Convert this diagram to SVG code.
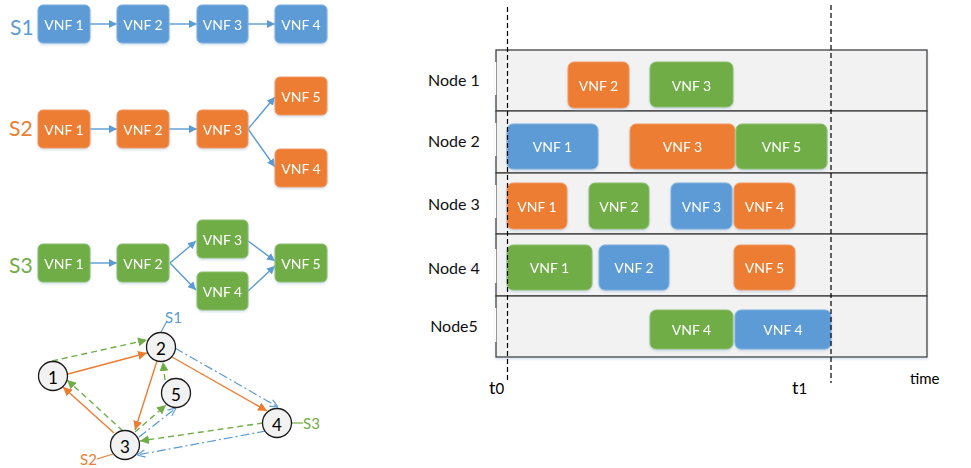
<svg xmlns="http://www.w3.org/2000/svg" width="971" height="468" viewBox="0 0 971 468">
  <style>
    text { font-family: Lato, "Liberation Sans", "DejaVu Sans", sans-serif; }
    .box { stroke-width: 1; }
    .blue { fill: #5B9BD5; stroke: #7FB0DE; }
    .orange { fill: #ED7D31; stroke: #F09A60; }
    .green { fill: #70AD47; stroke: #8CBF6A; }
    .lbl { fill: #FFFFFF; font-size: 14px; text-anchor: middle; dominant-baseline: central; }
    .chain { stroke: #5B9BD5; stroke-width: 1.4; fill: none; marker-end: url(#ah-blue); }
    .sol-o { stroke: #ED7D31; stroke-width: 1.4; fill: none; marker-end: url(#ah-orange); }
    .dash-g { stroke: #70AD47; stroke-width: 1.4; fill: none; stroke-dasharray: 6 4; marker-end: url(#ah-green); }
    .dd-b { stroke: #5B9BD5; stroke-width: 1.2; fill: none; stroke-dasharray: 9 3 2 3; marker-end: url(#ah-blue-open); }
    .gnode circle { fill: #F2F2F2; stroke: #1A1A1A; stroke-width: 1.3; }
    .gnode text { font-size: 17px; fill: #000; text-anchor: middle; dominant-baseline: central; }
    .row { fill: #F2F2F2; stroke: #404040; stroke-width: 1.3; }
    .rowlbl { font-size: 16px; fill: #111; text-anchor: middle; dominant-baseline: central; }
    .tline { stroke: #000; stroke-width: 1.2; stroke-dasharray: 5 3; fill: none; }
  </style>
  <defs>
    <filter id="soft" x="-10%" y="-10%" width="120%" height="130%">
      <feDropShadow dx="0" dy="1.5" stdDeviation="1.2" flood-color="#9DB7D6" flood-opacity="0.45"/>
    </filter>
    <marker id="ah-blue" viewBox="0 0 10 10" refX="10" refY="5" markerWidth="8" markerHeight="8" markerUnits="userSpaceOnUse" orient="auto">
      <path d="M0,0 L10,5 L0,10 z" fill="#5B9BD5"/>
    </marker>
    <marker id="ah-orange" viewBox="0 0 10 10" refX="10" refY="5" markerWidth="9" markerHeight="9" markerUnits="userSpaceOnUse" orient="auto">
      <path d="M0,0 L10,5 L0,10 z" fill="#ED7D31"/>
    </marker>
    <marker id="ah-green" viewBox="0 0 10 10" refX="10" refY="5" markerWidth="9" markerHeight="9" markerUnits="userSpaceOnUse" orient="auto">
      <path d="M0,0 L10,5 L0,10 z" fill="#70AD47"/>
    </marker>
    <marker id="ah-blue-open" viewBox="0 0 10 10" refX="10" refY="5" markerWidth="9" markerHeight="9" markerUnits="userSpaceOnUse" orient="auto">
      <path d="M1,1 L10,5 L1,9" fill="none" stroke="#5B9BD5" stroke-width="1.3" stroke-dasharray="none"/>
    </marker>
  </defs>

  <rect width="971" height="468" fill="#FFFFFF"/>

  <!-- Service chain labels -->
  <text x="10" y="35" font-size="21" fill="#5B9BD5">S1</text>
  <text x="9" y="136" font-size="21" fill="#ED7D31">S2</text>
  <text x="9" y="273" font-size="21" fill="#70AD47">S3</text>

  <!-- Service chain connectors -->
  <g id="chain-connectors">
    <line class="chain" x1="90" y1="24" x2="117" y2="24"/>
    <line class="chain" x1="169" y1="24" x2="197" y2="24"/>
    <line class="chain" x1="248" y1="24" x2="275" y2="24"/>
    <line class="chain" x1="90" y1="129" x2="117" y2="129"/>
    <line class="chain" x1="169" y1="129" x2="197" y2="129"/>
    <line class="chain" x1="248" y1="129" x2="275" y2="97"/>
    <line class="chain" x1="248" y1="129" x2="275" y2="167"/>
    <line class="chain" x1="90" y1="263" x2="117" y2="263"/>
    <line class="chain" x1="170" y1="263" x2="196" y2="241"/>
    <line class="chain" x1="170" y1="263" x2="196" y2="290"/>
    <line class="chain" x1="248" y1="241" x2="275" y2="261"/>
    <line class="chain" x1="248" y1="291" x2="275" y2="266"/>
  </g>

  <!-- Service chain S1 -->
  <g id="s1-vnf1" filter="url(#soft)"><rect class="box blue" x="38" y="5" width="52" height="38" rx="5"/><text class="lbl" x="64" y="24">VNF 1</text></g>
  <g id="s1-vnf2" filter="url(#soft)"><rect class="box blue" x="117" y="5" width="52" height="38" rx="5"/><text class="lbl" x="143" y="24">VNF 2</text></g>
  <g id="s1-vnf3" filter="url(#soft)"><rect class="box blue" x="197" y="5" width="51" height="38" rx="5"/><text class="lbl" x="222.5" y="24">VNF 3</text></g>
  <g id="s1-vnf4" filter="url(#soft)"><rect class="box blue" x="275" y="5" width="52" height="38" rx="5"/><text class="lbl" x="301" y="24">VNF 4</text></g>

  <!-- Service chain S2 -->
  <g id="s2-vnf1" filter="url(#soft)"><rect class="box orange" x="38" y="110" width="52" height="38" rx="5"/><text class="lbl" x="64" y="129">VNF 1</text></g>
  <g id="s2-vnf2" filter="url(#soft)"><rect class="box orange" x="117" y="110" width="52" height="38" rx="5"/><text class="lbl" x="143" y="129">VNF 2</text></g>
  <g id="s2-vnf3" filter="url(#soft)"><rect class="box orange" x="197" y="110" width="51" height="38" rx="5"/><text class="lbl" x="222.5" y="129">VNF 3</text></g>
  <g id="s2-vnf5" filter="url(#soft)"><rect class="box orange" x="275" y="77" width="52" height="38" rx="5"/><text class="lbl" x="301" y="96">VNF 5</text></g>
  <g id="s2-vnf4" filter="url(#soft)"><rect class="box orange" x="275" y="149" width="52" height="38" rx="5"/><text class="lbl" x="301" y="168">VNF 4</text></g>

  <!-- Service chain S3 -->
  <g id="s3-vnf1" filter="url(#soft)"><rect class="box green" x="38" y="244" width="52" height="38" rx="5"/><text class="lbl" x="64" y="263">VNF 1</text></g>
  <g id="s3-vnf2" filter="url(#soft)"><rect class="box green" x="117" y="244" width="52" height="38" rx="5"/><text class="lbl" x="143" y="263">VNF 2</text></g>
  <g id="s3-vnf3" filter="url(#soft)"><rect class="box green" x="197" y="220" width="51" height="38" rx="5"/><text class="lbl" x="222.5" y="239">VNF 3</text></g>
  <g id="s3-vnf4" filter="url(#soft)"><rect class="box green" x="197" y="272" width="51" height="38" rx="5"/><text class="lbl" x="222.5" y="291">VNF 4</text></g>
  <g id="s3-vnf5" filter="url(#soft)"><rect class="box green" x="275" y="244" width="52" height="38" rx="5"/><text class="lbl" x="301" y="263">VNF 5</text></g>

  <!-- Substrate network: links -->
  <g id="net-connectors">
    <line class="dash-g" x1="52" y1="361" x2="147" y2="340"/>
    <line class="sol-o" x1="68" y1="374" x2="147" y2="353"/>
    <line class="sol-o" x1="114" y1="433" x2="63" y2="387"/>
    <line class="dash-g" x1="123" y1="431" x2="67" y2="380"/>
    <line class="sol-o" x1="157" y1="361" x2="135" y2="430"/>
    <line class="dash-g" x1="135" y1="432" x2="166" y2="405"/>
    <line class="dd-b" x1="139" y1="437" x2="176" y2="408"/>
    <line class="dash-g" x1="165" y1="380" x2="163" y2="362"/>
    <line class="sol-o" x1="172" y1="357" x2="267" y2="411"/>
    <line class="dd-b" x1="175" y1="348" x2="278" y2="407"/>
    <line class="dash-g" x1="263" y1="423" x2="140" y2="441"/>
    <line class="dd-b" x1="266" y1="431" x2="137" y2="455"/>
    <!-- entry/exit tags -->
    <line x1="161" y1="332" x2="167" y2="321" stroke="#5B9BD5" stroke-width="1.2"/>
    <line x1="291" y1="423" x2="303" y2="423" stroke="#70AD47" stroke-width="1.2"/>
    <line x1="97" y1="459" x2="113" y2="454" stroke="#ED7D31" stroke-width="1.2"/>
  </g>
  <text x="165" y="323" font-size="15" fill="#5B9BD5">S1</text>
  <text x="303" y="429" font-size="15" fill="#70AD47">S3</text>
  <text x="80" y="465" font-size="15" fill="#ED7D31">S2</text>

  <!-- Substrate network: nodes -->
  <g id="net-n1" class="gnode"><circle cx="53" cy="376" r="14.5"/><text x="53" y="377">1</text></g>
  <g id="net-n2" class="gnode"><circle cx="161" cy="347" r="14.5"/><text x="161" y="348">2</text></g>
  <g id="net-n3" class="gnode"><circle cx="125" cy="445" r="14.5"/><text x="125" y="446">3</text></g>
  <g id="net-n4" class="gnode"><circle cx="277" cy="423" r="14.5"/><text x="277" y="424">4</text></g>
  <g id="net-n5" class="gnode"><circle cx="176" cy="393" r="14.5"/><text x="176" y="394">5</text></g>

  <!-- Schedule chart: rows -->
  <g id="rows" filter="url(#soft)">
    <rect class="row" x="496" y="50" width="431" height="61"/>
    <rect class="row" x="496" y="111" width="431" height="62"/>
    <rect class="row" x="496" y="173" width="431" height="61"/>
    <rect class="row" x="496" y="234" width="431" height="62"/>
    <rect class="row" x="496" y="296" width="431" height="61"/>
  </g>
  <g stroke="#FFFFFF" stroke-width="1.2">
    <line x1="495.6" y1="62" x2="495.6" y2="95"/>
    <line x1="495.6" y1="123" x2="495.6" y2="156"/>
    <line x1="495.6" y1="185" x2="495.6" y2="218"/>
    <line x1="495.6" y1="249" x2="495.6" y2="283"/>
    <line x1="495.6" y1="308" x2="495.6" y2="342"/>
  </g>
  <text class="rowlbl" x="454" y="79">Node 1</text>
  <text class="rowlbl" x="454" y="140">Node 2</text>
  <text class="rowlbl" x="454" y="203">Node 3</text>
  <text class="rowlbl" x="454" y="267">Node 4</text>
  <text class="rowlbl" x="454" y="325">Node5</text>

  <!-- Schedule chart: tasks -->
  <g id="n1-vnf2" filter="url(#soft)"><rect class="box orange" x="568" y="62" width="61" height="46" rx="6"/><text class="lbl" x="598.5" y="85">VNF 2</text></g>
  <g id="n1-vnf3" filter="url(#soft)"><rect class="box green" x="650" y="62" width="83" height="45" rx="6"/><text class="lbl" x="691.5" y="85">VNF 3</text></g>

  <g id="n2-vnf1" filter="url(#soft)"><rect class="box blue" x="507" y="124" width="91" height="45" rx="6"/><text class="lbl" x="552.5" y="146.5">VNF 1</text></g>
  <g id="n2-vnf3" filter="url(#soft)"><rect class="box orange" x="630" y="124" width="105" height="45" rx="6"/><text class="lbl" x="682.5" y="146.5">VNF 3</text></g>
  <g id="n2-vnf5" filter="url(#soft)"><rect class="box green" x="736" y="124" width="91" height="45" rx="6"/><text class="lbl" x="781.5" y="146.5">VNF 5</text></g>

  <g id="n3-vnf1" filter="url(#soft)"><rect class="box orange" x="507" y="183" width="60" height="46" rx="6"/><text class="lbl" x="537" y="206">VNF 1</text></g>
  <g id="n3-vnf2" filter="url(#soft)"><rect class="box green" x="589" y="183" width="60" height="46" rx="6"/><text class="lbl" x="619" y="206">VNF 2</text></g>
  <g id="n3-vnf3" filter="url(#soft)"><rect class="box blue" x="671" y="183" width="61" height="46" rx="6"/><text class="lbl" x="701.5" y="206">VNF 3</text></g>
  <g id="n3-vnf4" filter="url(#soft)"><rect class="box orange" x="734" y="183" width="61" height="46" rx="6"/><text class="lbl" x="764.5" y="206">VNF 4</text></g>

  <g id="n4-vnf1" filter="url(#soft)"><rect class="box green" x="507" y="245" width="85" height="45" rx="6"/><text class="lbl" x="549.5" y="267.5">VNF 1</text></g>
  <g id="n4-vnf2" filter="url(#soft)"><rect class="box blue" x="599" y="245" width="70" height="45" rx="6"/><text class="lbl" x="634" y="267.5">VNF 2</text></g>
  <g id="n4-vnf5" filter="url(#soft)"><rect class="box orange" x="734" y="245" width="61" height="45" rx="6"/><text class="lbl" x="764.5" y="267.5">VNF 5</text></g>

  <g id="n5-vnf4g" filter="url(#soft)"><rect class="box green" x="650" y="310" width="83" height="39" rx="6"/><text class="lbl" x="691.5" y="329.5">VNF 4</text></g>
  <g id="n5-vnf4b" filter="url(#soft)"><rect class="box blue" x="735" y="310" width="96" height="39" rx="6"/><text class="lbl" x="783" y="329.5">VNF 4</text></g>

  <!-- Time markers -->
  <line class="tline" x1="507.5" y1="7" x2="507.5" y2="383"/>
  <line class="tline" x1="831" y1="5" x2="831" y2="383"/>
  <text x="489" y="394" font-size="18" fill="#000">t<tspan font-size="15">0</tspan></text>
  <text x="792" y="394" font-size="18" fill="#000">t<tspan font-size="15">1</tspan></text>
  <text x="910" y="384" font-size="15" fill="#000">time</text>
</svg>
